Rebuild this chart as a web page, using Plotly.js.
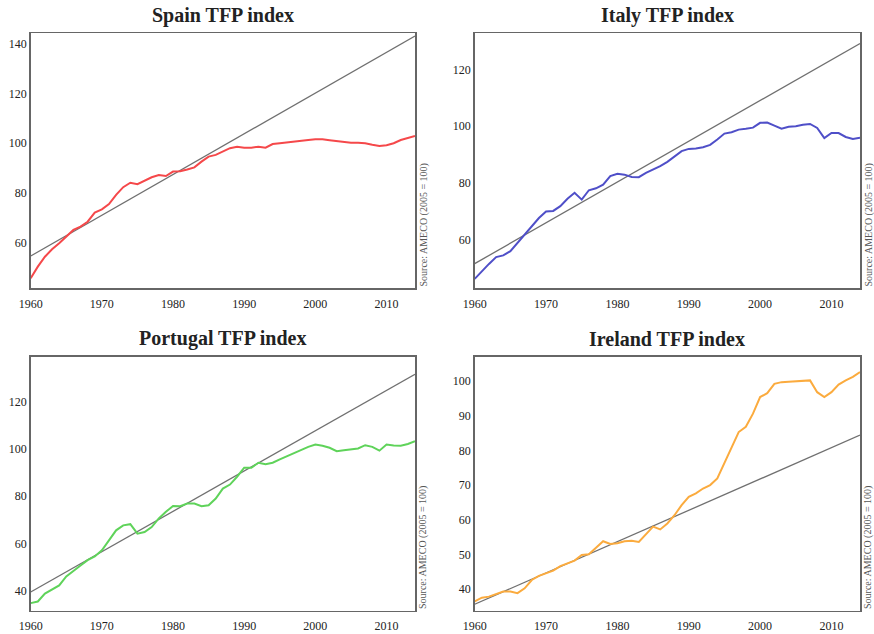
<!DOCTYPE html>
<html>
<head>
<meta charset="utf-8">
<script src="https://cdn.plot.ly/plotly-3.0.1.min.js"></script>
<style>html,body{margin:0;padding:0;background:#fff;}#chart{width:874px;height:634px;}</style>
</head>
<body>
<div id="chart"></div>
<script>
const years = [];
for (let y = 1960; y <= 2014; y++) years.push(y);

const spain = [45.5,50.2,54.2,57.2,59.6,62.3,65.0,66.3,68.3,72.0,73.3,75.4,79.1,82.2,84.0,83.4,84.8,86.2,87.1,86.7,
  88.5,88.6,89.3,90.2,92.5,94.5,95.2,96.5,97.9,98.5,98.1,98.1,98.5,98.1,99.6,99.9,100.3,100.7,100.9,101.2,
  101.5,101.5,101.1,100.7,100.4,100.1,100.1,99.9,99.3,98.8,99.1,99.9,101.2,101.9,102.8];
const italy = [46.1,48.8,51.4,53.8,54.4,55.9,58.8,61.8,64.7,67.6,69.9,70.1,71.8,74.4,76.5,74.1,77.4,78.1,79.4,82.4,
  83.2,82.9,82.1,82.0,83.5,84.7,85.9,87.4,89.4,91.2,92.0,92.1,92.6,93.4,95.3,97.4,97.9,98.8,99.1,99.5,
  101.2,101.3,100.2,99.1,99.8,100.0,100.5,100.8,99.4,95.8,97.6,97.6,96.2,95.5,95.9];
const portugal = [34.9,35.6,38.9,40.6,42.4,46.2,48.7,50.8,53.0,54.6,57.2,61.4,65.6,67.7,68.2,64.2,64.9,67.0,70.6,73.4,
  75.9,75.8,76.9,76.9,75.8,76.2,79.0,83.2,84.9,88.2,92.0,92.0,94.1,93.5,94.1,95.5,96.9,98.0,99.4,100.8,
  101.8,101.3,100.4,99.0,99.4,99.7,100.1,101.5,100.8,99.2,101.8,101.4,101.3,102.0,103.2];
const ireland = [36.4,37.5,37.8,38.6,39.3,39.3,38.8,40.2,42.6,43.8,44.5,45.3,46.6,47.4,48.2,49.8,50.0,51.9,53.8,53.0,
  53.2,53.8,53.9,53.6,55.8,58.0,57.2,58.9,61.3,64.2,66.6,67.6,69.0,70.0,71.9,76.2,80.5,85.3,86.8,90.6,
  95.4,96.5,99.2,99.7,99.8,100.0,100.1,100.2,96.8,95.4,96.8,99.0,100.2,101.2,102.6];

const trendYears = [1960, 2014];
const spainTrend = [54.5, 143.1];
const italyTrend = [51.5, 129.2];
const portugalTrend = [39.6, 131.4];
const irelandTrend = [35.6, 84.4];

const titles = ["Spain TFP index", "Italy TFP index", "Portugal TFP index", "Ireland TFP index"];
const sourceText = "Source: AMECO (2005 = 100)";
const xTicks = [1960, 1970, 1980, 1990, 2000, 2010];
const spainTicks = [60, 80, 100, 120, 140];
const italyTicks = [60, 80, 100, 120];
const portugalTicks = [40, 60, 80, 100, 120];
const irelandTicks = [40, 50, 60, 70, 80, 90, 100];

const W = 874, H = 634;
const colL = [30.7/W, 415/W], colR = [474.7/W, 860/W];
const rowT = [1 - 288/H, 1 - 33/H], rowB = [1 - 610.5/H, 1 - 356.5/H];

const panels = [
  {data: spain, trend: spainTrend, color: '#f5484a', ticks: spainTicks, yr: [41.6, 144.3], xd: colL, yd: rowT},
  {data: italy, trend: italyTrend, color: '#4f4fc8', ticks: italyTicks, yr: [42.9, 132.9], xd: colR, yd: rowT},
  {data: portugal, trend: portugalTrend, color: '#5fd35a', ticks: portugalTicks, yr: [31.8, 138.9], xd: colL, yd: rowB},
  {data: ireland, trend: irelandTrend, color: '#fbab3e', ticks: irelandTicks, yr: [33.8, 107.1], xd: colR, yd: rowB}
];

const serif = '"Liberation Serif", "Times New Roman", serif';
const traces = [];
const layout = {
  width: W, height: H, margin: {l: 0, r: 0, t: 0, b: 0},
  paper_bgcolor: '#fff', plot_bgcolor: '#fff', showlegend: false,
  font: {family: serif, color: '#222'},
  annotations: []
};
const tickFont = {family: serif, size: 12, color: '#222'};

panels.forEach((p, i) => {
  const n = i + 1;
  const xa = 'x' + (n === 1 ? '' : n), ya = 'y' + (n === 1 ? '' : n);
  traces.push({x: trendYears, y: p.trend, xaxis: xa, yaxis: ya, mode: 'lines',
    line: {color: '#707070', width: 1.3}, hoverinfo: 'skip'});
  traces.push({x: years, y: p.data, xaxis: xa, yaxis: ya, mode: 'lines',
    line: {color: p.color, width: 2}});
  const axX = {domain: p.xd, range: [1960, 2014], anchor: ya, tickvals: xTicks, showgrid: false, zeroline: false,
    showline: true, mirror: true, linecolor: '#666', linewidth: 1.5, ticks: 'outside', ticklen: 4, tickcolor: '#fff',
    tickfont: tickFont};
  const axY = {domain: p.yd, range: p.yr, anchor: xa, tickvals: p.ticks, showgrid: false, zeroline: false,
    showline: true, mirror: true, linecolor: '#666', linewidth: 1.5, ticks: '', tickfont: tickFont};
  layout['xaxis' + (n === 1 ? '' : n)] = axX;
  layout['yaxis' + (n === 1 ? '' : n)] = axY;
  layout.annotations.push({xref: 'paper', yref: 'paper', x: (p.xd[0] + p.xd[1]) / 2, y: p.yd[1],
    yshift: 4, xanchor: 'center', yanchor: 'bottom', showarrow: false, text: '<b>' + titles[i] + '</b>',
    font: {family: serif, size: 20, color: '#222'}});
  layout.annotations.push({xref: 'paper', yref: 'paper', x: p.xd[1], y: p.yd[0], xshift: 8,
    xanchor: 'center', yanchor: 'bottom', textangle: -90, showarrow: false, text: sourceText, borderpad: 0,
    font: {family: serif, size: 10, color: '#555'}});
});

Plotly.newPlot('chart', traces, layout, {staticPlot: true});
</script>
</body>
</html>
